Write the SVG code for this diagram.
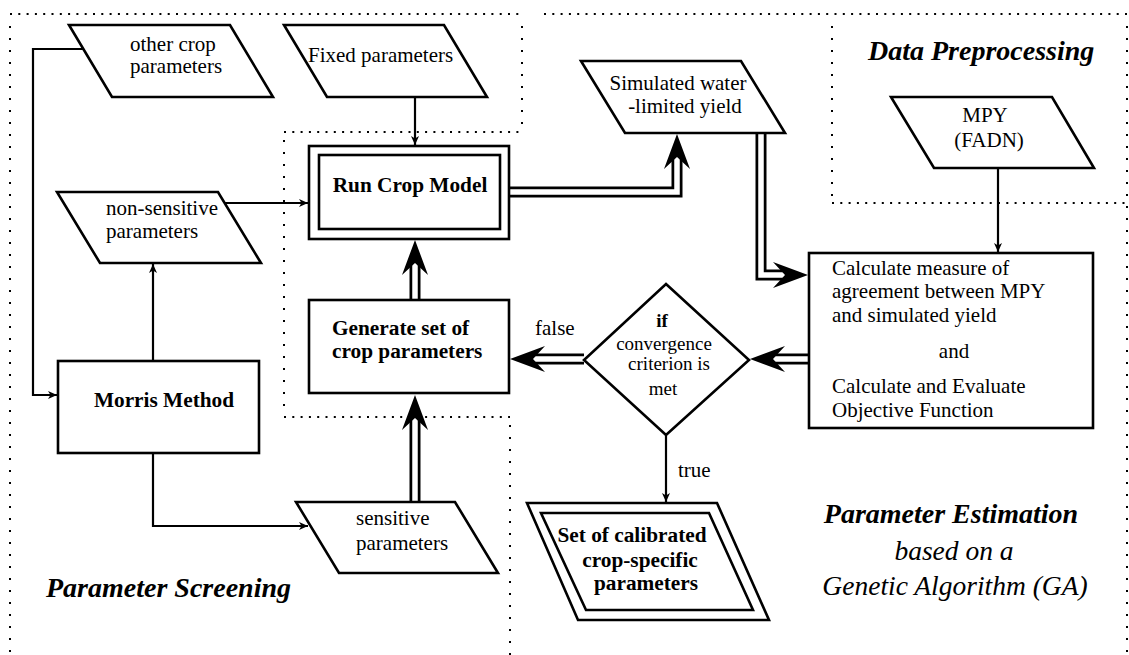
<svg xmlns="http://www.w3.org/2000/svg" xmlns:xlink="http://www.w3.org/1999/xlink" width="1129" height="655" viewBox="0 0 1129 655" font-family="'Liberation Serif', serif">
  <style>
    .dotH { fill: none; stroke: #000; stroke-width: 2; stroke-dasharray: 2 6.3; }
    .dotV { fill: none; stroke: #000; stroke-width: 2; stroke-dasharray: 2 10; }
    .shape { fill: #fff; stroke: #000; stroke-width: 2.6; stroke-linejoin: miter; }
    .thin { fill: none; stroke: #000; stroke-width: 2.2; marker-end: url(#tip); }
    .dblOuter { fill: none; stroke: #000; stroke-width: 11; stroke-linejoin: miter; }
    .dblInner { fill: none; stroke: #fff; stroke-width: 5.5; stroke-linejoin: miter; }
    .t { font-family: 'Liberation Serif', serif; font-size: 21px; }
    .tb { font-family: 'Liberation Serif', serif; font-size: 21.3px; font-weight: bold; }
    .ts { font-family: 'Liberation Serif', serif; font-size: 19px; }
    .title { font-family: 'Liberation Serif', serif; font-size: 28px; font-weight: bold; font-style: italic; }
    .sub { font-family: 'Liberation Serif', serif; font-size: 27.5px; font-style: italic; }
  </style>
  <defs>
    <marker id="tip" viewBox="-10 -5 11 10" refX="0" refY="0" markerWidth="11" markerHeight="10" orient="auto" markerUnits="userSpaceOnUse">
      <path d="M0,0 L-9,-4 L-6.5,0 L-9,4 Z" fill="#000"/>
    </marker>
    <!-- large swept arrowhead, tip at origin, pointing up -->
    <path id="bigHead" d="M0,0 L13,35 L0,23 L-13,35 Z" fill="#000"/>
  </defs>

  <rect width="1129" height="655" fill="#fff"/>

  <!-- region borders -->
  <g id="regions">
    <path class="dotH" d="M10,14 H521 M544,14 H1129"/>
    <path class="dotV" d="M10,26 V655"/>
    <path class="dotV" d="M1127,26 V655"/>
    <path class="dotV" d="M522,26 V126"/>
    <path class="dotH" d="M284,132 H522"/>
    <path class="dotV" d="M284,140 V412"/>
    <path class="dotH" d="M284,417 H510"/>
    <path class="dotV" d="M510,425 V655"/>
    <path class="dotV" d="M832,26 V198"/>
    <path class="dotH" d="M832,203 H1129"/>
  </g>

  <!-- connectors -->
  <g id="connectors">
    <path class="thin" d="M83,49 H33 V395 H57"/>
    <path class="thin" d="M153,361 V264"/>
    <path class="thin" d="M225,203 H308"/>
    <path class="thin" d="M415,97 V145"/>
    <path class="thin" d="M153,453 V526 H308"/>
    <path class="thin" d="M998,168 V252"/>
    <path class="thin" d="M666,435 V502"/>

    <path class="dblOuter" d="M415,502 V418"/>
    <path class="dblInner" d="M415,504 V418"/>
    <use xlink:href="#bigHead" transform="translate(415,395)"/>

    <path class="dblOuter" d="M415,300 V263"/>
    <path class="dblInner" d="M415,302 V263"/>
    <use xlink:href="#bigHead" transform="translate(415,240)"/>

    <path class="dblOuter" d="M509,192 H677 V157"/>
    <path class="dblInner" d="M507,192 H677 V157"/>
    <use xlink:href="#bigHead" transform="translate(677,134)"/>

    <path class="dblOuter" d="M761,133 V275 H786"/>
    <path class="dblInner" d="M761,131 V275 H786"/>
    <use xlink:href="#bigHead" transform="translate(808,275) rotate(90)"/>

    <path class="dblOuter" d="M809,359 H773"/>
    <path class="dblInner" d="M811,359 H773"/>
    <use xlink:href="#bigHead" transform="translate(750,359) rotate(-90)"/>

    <path class="dblOuter" d="M584,359 H532"/>
    <path class="dblInner" d="M586,359 H532"/>
    <use xlink:href="#bigHead" transform="translate(510,359) rotate(-90)"/>
  </g>

  <!-- nodes -->
  <g id="other-crop-parameters">
    <path class="shape" d="M69,25 L230,25 L273,97 L112,97 Z"/>
    <text class="t" x="130" y="51">other crop</text>
    <text class="t" x="130" y="73">parameters</text>
  </g>

  <g id="fixed-parameters">
    <path class="shape" d="M284,25 L444,25 L487,97 L327,97 Z"/>
    <text class="t" x="308" y="62">Fixed parameters</text>
  </g>

  <g id="run-crop-model">
    <rect class="shape" x="309" y="146" width="200" height="93"/>
    <rect class="shape" x="319" y="155" width="181" height="74"/>
    <text class="tb" x="410" y="192" text-anchor="middle">Run Crop Model</text>
  </g>

  <g id="non-sensitive-parameters">
    <path class="shape" d="M57,192 L218,192 L261,263 L100,263 Z"/>
    <text class="t" x="106" y="215">non-sensitive</text>
    <text class="t" x="106" y="238">parameters</text>
  </g>

  <g id="morris-method">
    <rect class="shape" x="58" y="361" width="201" height="92"/>
    <text class="tb" x="164" y="407" text-anchor="middle">Morris Method</text>
  </g>

  <g id="generate-parameters">
    <rect class="shape" x="309" y="300" width="200" height="93"/>
    <text class="tb" x="332" y="335">Generate set of</text>
    <text class="tb" x="332" y="358">crop parameters</text>
  </g>

  <g id="sensitive-parameters">
    <path class="shape" d="M296,502 L455,502 L498,573 L339,573 Z"/>
    <text class="t" x="356" y="525">sensitive</text>
    <text class="t" x="356" y="550">parameters</text>
  </g>

  <g id="simulated-yield">
    <path class="shape" d="M581,61 L741,61 L785,133 L625,133 Z"/>
    <text class="t" x="678" y="90" text-anchor="middle">Simulated water</text>
    <text class="t" x="685" y="113" text-anchor="middle">-limited yield</text>
  </g>

  <g id="mpy">
    <path class="shape" d="M891,97 L1052,97 L1094,168 L934,168 Z"/>
    <text class="t" x="985" y="122" text-anchor="middle">MPY</text>
    <text class="t" x="989" y="147" text-anchor="middle">(FADN)</text>
  </g>

  <g id="objective-function">
    <rect class="shape" x="809" y="253" width="284" height="175"/>
    <text class="t" x="832" y="275">Calculate measure of</text>
    <text class="t" x="832" y="298">agreement between MPY</text>
    <text class="t" x="832" y="322">and simulated yield</text>
    <text class="t" x="954" y="358" text-anchor="middle">and</text>
    <text class="t" x="832" y="393">Calculate and Evaluate</text>
    <text class="t" x="832" y="417">Objective Function</text>
  </g>

  <g id="convergence-check">
    <path class="shape" d="M666,284 L749,360 L666,435 L584,360 Z"/>
    <text class="ts" x="662" y="327" text-anchor="middle" font-weight="bold">if</text>
    <text class="ts" x="664" y="350" text-anchor="middle">convergence</text>
    <text class="ts" x="669" y="370" text-anchor="middle">criterion is</text>
    <text class="ts" x="663" y="395" text-anchor="middle">met</text>
  </g>

  <g id="calibrated-parameters">
    <path class="shape" d="M527,503 L717,503 L769,620 L578,620 Z"/>
    <path class="shape" d="M541,513 L709,513 L753,610 L586,610 Z"/>
    <text class="tb" x="632" y="542" text-anchor="middle">Set of calibrated</text>
    <text class="tb" x="640" y="567" text-anchor="middle">crop-specific</text>
    <text class="tb" x="646" y="590" text-anchor="middle">parameters</text>
  </g>

  <!-- edge labels -->
  <g id="labels">
    <text class="t" x="535" y="335">false</text>
    <text class="t" x="678" y="477">true</text>
  </g>

  <!-- region titles -->
  <g id="titles">
    <text class="title" x="868" y="60">Data Preprocessing</text>
    <text class="title" x="46" y="597">Parameter Screening</text>
    <text class="title" x="951" y="523" text-anchor="middle">Parameter Estimation</text>
    <text class="sub" x="954" y="560" text-anchor="middle">based on a</text>
    <text class="sub" x="955" y="595" text-anchor="middle">Genetic Algorithm (GA)</text>
  </g>
</svg>
